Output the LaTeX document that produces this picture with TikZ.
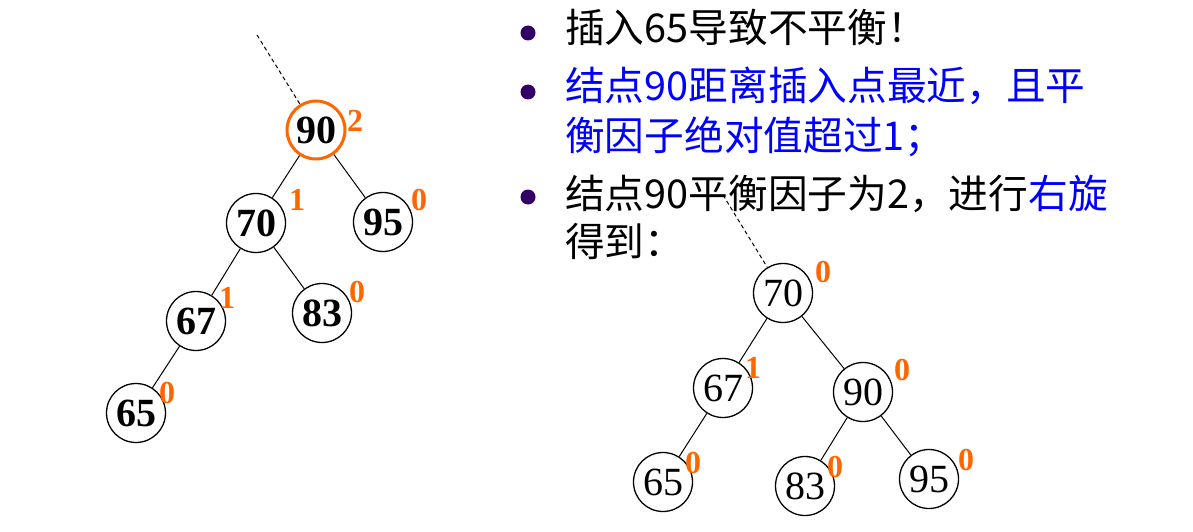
\documentclass[tikz,border=0pt]{standalone}
\usepackage{fontspec}
\setmainfont{Liberation Serif}
\newfontfamily\cjk{Noto Sans CJK SC}
\definecolor{bforange}{RGB}{255,102,0}
\definecolor{dotpurple}{RGB}{51,0,102}

\begin{document}
\begin{tikzpicture}[x=1pt, y=-1pt,
    main/.style = {draw, circle, line width=1.3pt, minimum size=59pt, inner sep=0pt, font=\fontsize{40}{40}\selectfont},
    bold/.style = {main, font=\fontsize{40}{40}\selectfont\bfseries},
    hot/.style = {bold, draw=bforange, line width=3pt, minimum size=58pt},
    bf/.style = {text=bforange, inner sep=0pt, font=\fontsize{32}{32}\selectfont\bfseries},
    link/.style = {line width=1pt},
    item/.style = {anchor=base west, inner sep=0pt, font=\cjk\fontsize{39.7}{40}\selectfont},
    dot/.style = {circle, fill=dotpurple, minimum size=15pt, inner sep=0pt}]
    \useasboundingbox (0,0) rectangle (1193,532);
    % tree after inserting 65
    \node[hot] (1) at (316,130) {90};
    \node[bold] (2) at (256,223) {70};
    \node[bold] (3) at (383,222) {95};
    \node[bold] (4) at (196,321) {67};
    \node[bold] (5) at (322,313) {83};
    \node[bold] (6) at (136,413) {65};
    \coordinate (up1) at (257,35);
    \draw[link, dash pattern=on 4pt off 3pt] (up1) -- (1);
    \draw[link] (1) -- (2);
    \draw[link] (1) -- (3);
    \draw[link] (2) -- (4);
    \draw[link] (2) -- (5);
    \draw[link] (4) -- (6);
    \node[bf] (b1) at (355,121) {2};
    \node[bf] (b2) at (297,200) {1};
    \node[bf] (b3) at (419,200) {0};
    \node[bf] (b4) at (227,298) {1};
    \node[bf] (b5) at (357,292) {0};
    \node[bf] (b6) at (167,393) {0};
    % text
    \node[dot] (d1) at (528,33) {};
    \node[item] (t1) at (565,43) {插入65导致不平衡！};
    \node[dot] (d2) at (528,92) {};
    \node[item, text=blue] (t2) at (565,101) {结点90距离插入点最近，且平};
    \node[item, text=blue] (t3) at (565,150) {衡因子绝对值超过1；};
    \node[dot] (d3) at (528,197) {};
    \node[item] (t4) at (565,208) {结点90平衡因子为2，进行\textcolor{blue}{右旋}};
    \node[item] (t5) at (565,256) {得到：};
    % tree after right rotation
    \node[main] (7) at (783,293) {70};
    \node[main] (8) at (723,388) {67};
    \node[main] (9) at (863,392) {90};
    \node[main] (10) at (663,482) {65};
    \node[main] (11) at (805,486) {83};
    \node[main] (12) at (929,479) {95};
    \coordinate (up2) at (723,195);
    \draw[link, dash pattern=on 4pt off 3pt] (up2) -- (7);
    \draw[link] (7) -- (8);
    \draw[link] (7) -- (9);
    \draw[link] (8) -- (10);
    \draw[link] (9) -- (11);
    \draw[link] (9) -- (12);
    \node[bf] (b7) at (823,272) {0};
    \node[bf] (b8) at (753,368) {1};
    \node[bf] (b9) at (902,370) {0};
    \node[bf] (b10) at (693,463) {0};
    \node[bf] (b11) at (835,467) {0};
    \node[bf] (b12) at (966,460) {0};
\end{tikzpicture}
\end{document}
